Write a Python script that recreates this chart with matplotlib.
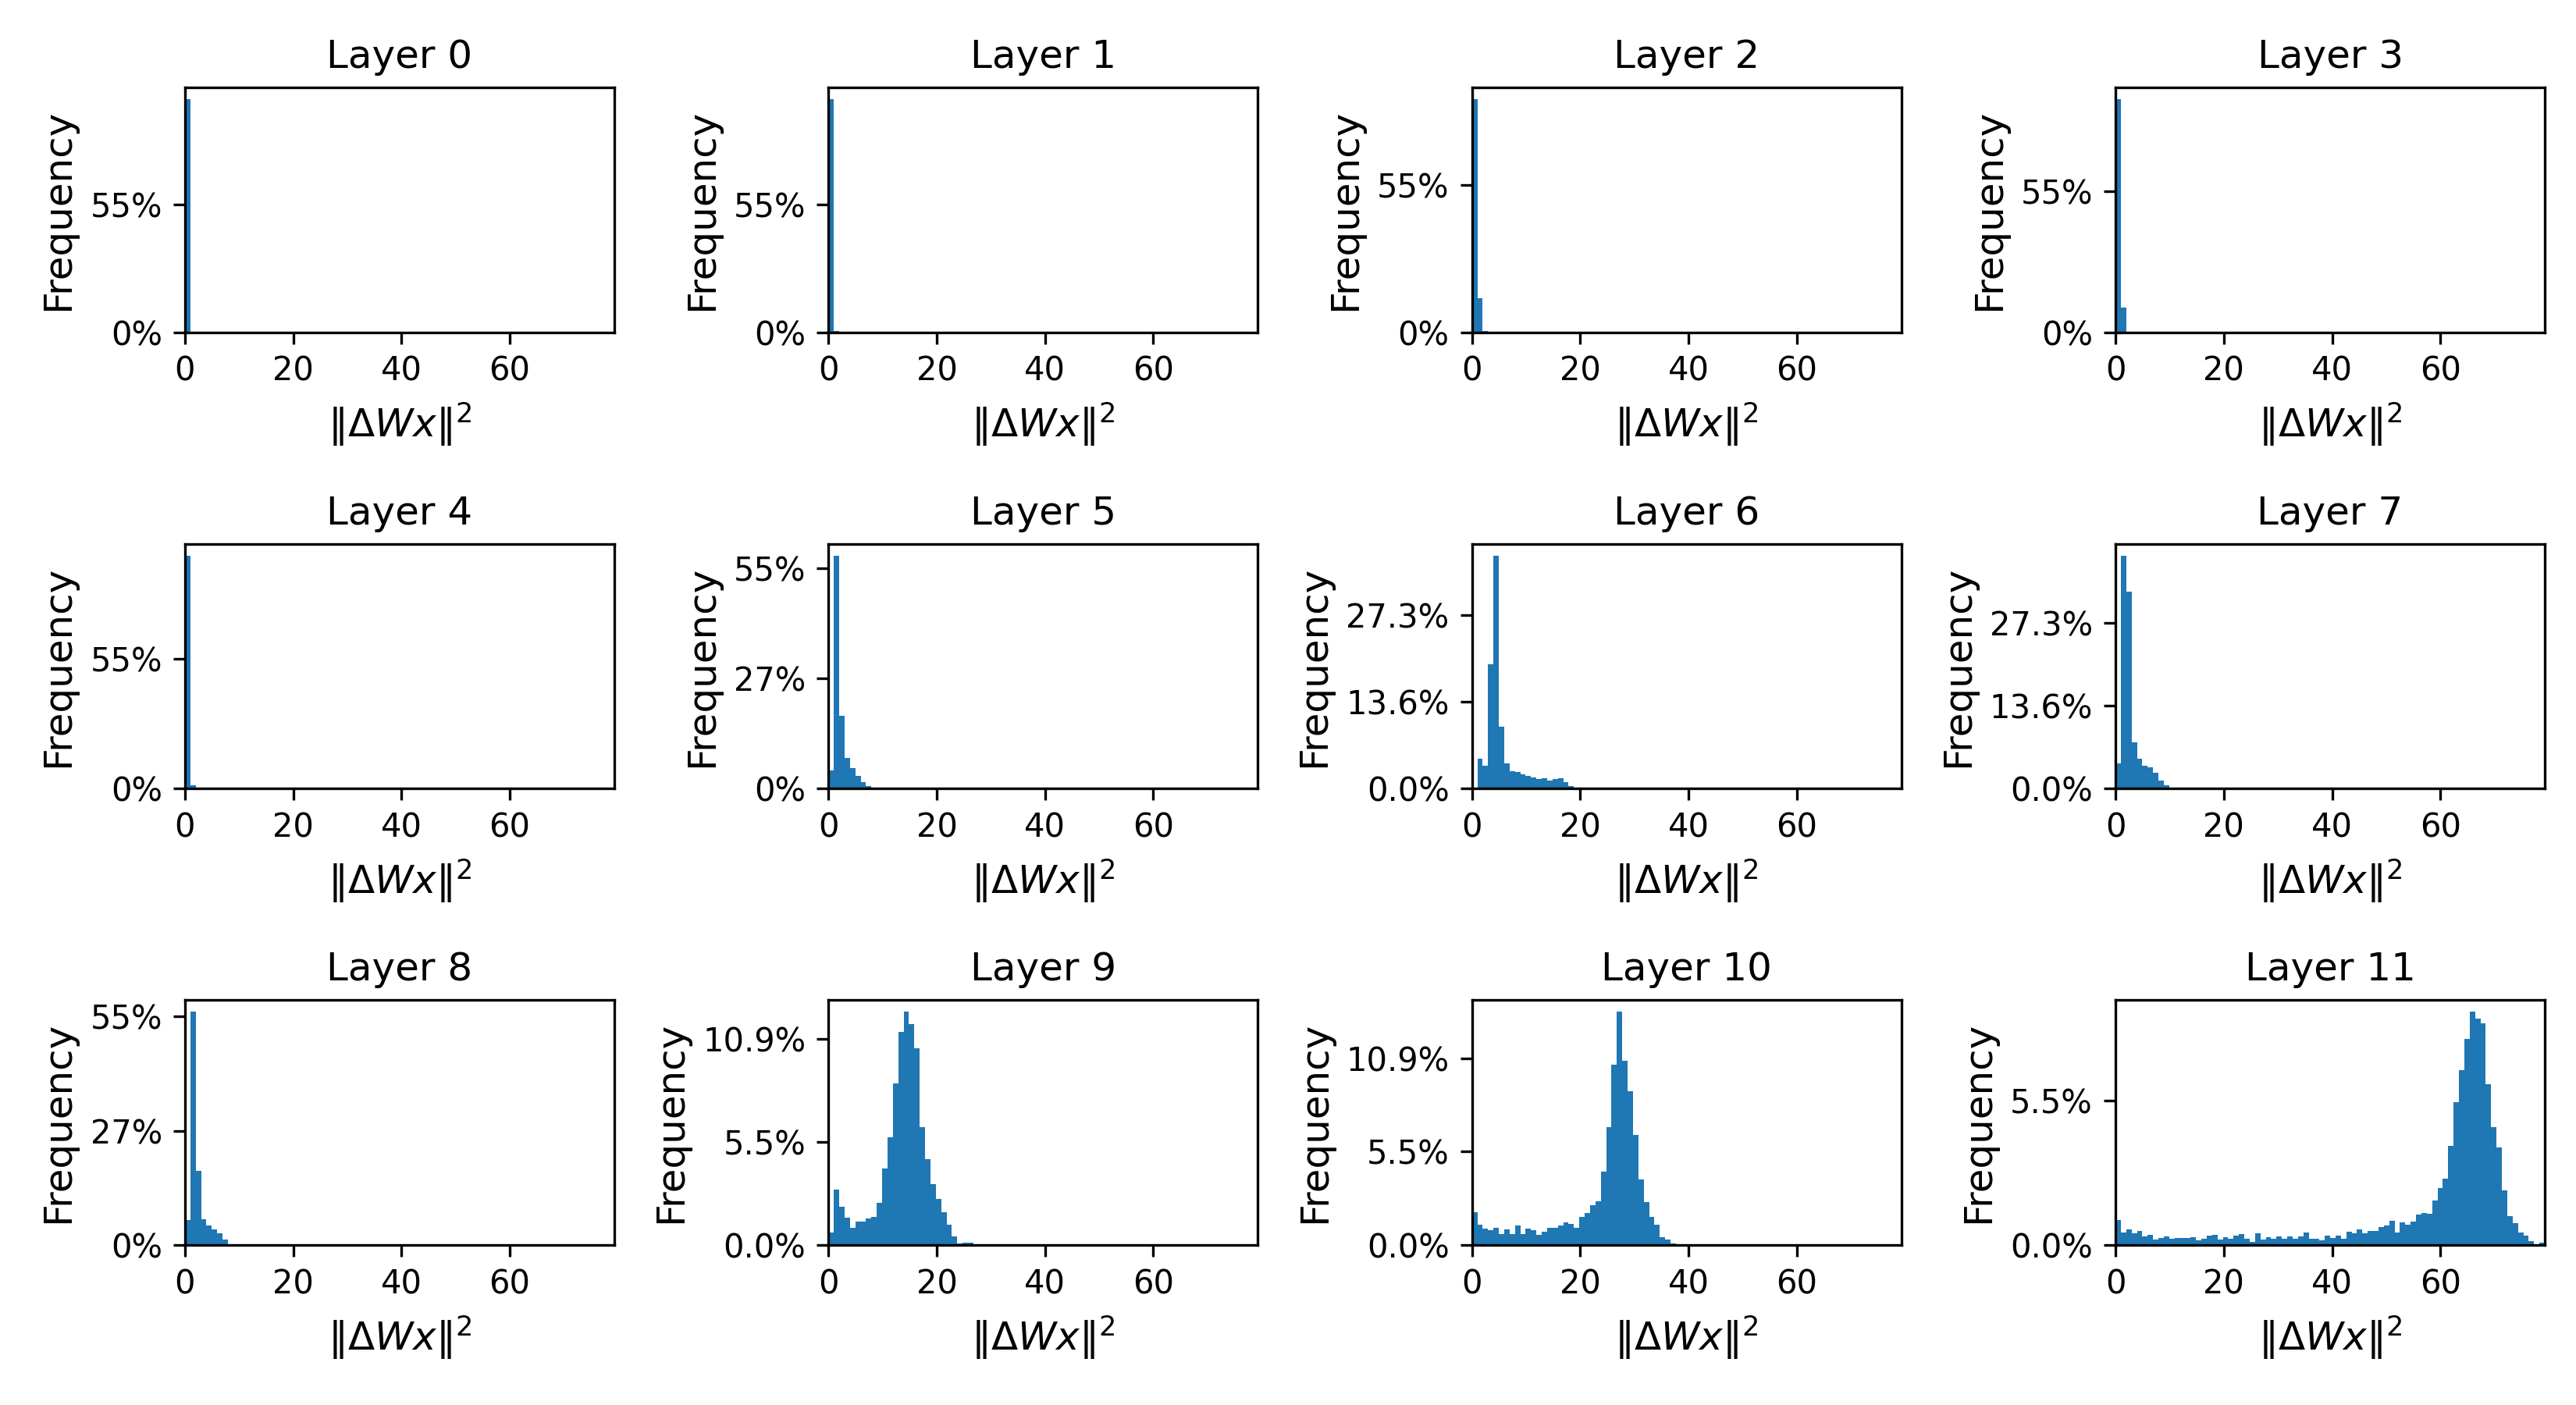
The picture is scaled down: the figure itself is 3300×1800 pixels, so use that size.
import numpy as np
import matplotlib
matplotlib.use("Agg")
import matplotlib.pyplot as plt
from matplotlib.ticker import PercentFormatter

# Shared histogram bins (80 bins over the squared-norm range)
x_max = 79.3
n_bins = 80
total_samples = 18330

layer_names = [f"Layer {i}" for i in range(12)]

# Frequency (%) per bin, starting at bin 0; remaining bins are zero
layer0 = [99.6, 0.3]
layer1 = [99.4, 0.5]
layer2 = [86.6, 12.7, 0.4, 0.1]
layer3 = [90.1, 9.5, 0.2]
layer4 = [98.2, 1.55, 0.1]
layer5 = [4.55, 57.7, 18.0, 7.5, 5.1, 3.2, 1.6, 0.65, 0.26, 0.1]
layer6 = [0.0, 4.65, 3.62, 19.6, 36.7, 9.8, 4.0, 2.8, 2.67, 2.3, 2.06, 1.73,
          1.56, 1.65, 1.28, 1.56, 1.65, 1.03, 0.41]
layer7 = [4.19, 38.3, 32.3, 7.55, 4.96, 3.80, 3.54, 2.63, 1.34, 0.56]
layer8 = [5.9, 55.7, 17.75, 6.09, 4.58, 3.64, 2.70, 1.38]
layer9 = [0.65, 2.93, 2.02, 1.44, 0.90, 1.23, 1.23, 1.40, 1.48, 2.22,
          4.05, 5.69, 8.55, 11.26, 12.33, 11.70, 10.39, 6.23, 4.54, 3.22,
          2.43, 1.73, 1.06, 0.44, 0.08, 0.11, 0.11, 0.05]
layer10 = [1.91, 1.18, 0.95, 0.85, 0.99, 0.63, 0.90, 0.63, 1.13, 0.63,
           0.95, 0.85, 0.58, 0.76, 0.99, 0.99, 1.13, 1.31, 1.22, 0.99,
           1.63, 1.86, 2.32, 2.55, 4.29, 6.90, 10.56, 13.63, 10.75, 9.01,
           6.44, 3.83, 2.50, 1.63, 1.18, 0.44, 0.31, 0.09, 0.02]
layer11 = [0.94, 0.46, 0.58, 0.43, 0.52, 0.31, 0.37, 0.20, 0.26, 0.31,
           0.23, 0.26, 0.26, 0.26, 0.29, 0.17, 0.23, 0.34, 0.37, 0.20,
           0.29, 0.23, 0.34, 0.40, 0.23, 0.11, 0.43, 0.20, 0.29, 0.23,
           0.31, 0.23, 0.31, 0.23, 0.31, 0.46, 0.23, 0.23, 0.17, 0.34,
           0.26, 0.34, 0.23, 0.49, 0.43, 0.58, 0.43, 0.52, 0.52, 0.67,
           0.73, 0.91, 0.46, 0.85, 0.76, 0.88, 1.14, 1.20, 1.17, 1.67,
           2.15, 2.50, 3.74, 5.39, 6.60, 7.76, 8.79, 8.52, 8.35, 6.07,
           4.45, 3.68, 2.06, 1.08, 0.82, 0.46, 0.34, 0.14, 0.02, 0.08]

layers = [layer0, layer1, layer2, layer3, layer4, layer5,
          layer6, layer7, layer8, layer9, layer10, layer11]

x_label = r"$\|\Delta Wx\|^2$"
y_label = "Frequency"

edges = np.linspace(0, x_max, n_bins + 1)
lefts = edges[:-1]

fig, axes = plt.subplots(3, 4, figsize=(11, 6), dpi=300)
fig.subplots_adjust(left=0.0718, right=0.9879, top=0.9378, bottom=0.1139,
                    wspace=0.499, hspace=0.864)
for ax, name, pct in zip(axes.flat, layer_names, layers):
    freq = np.zeros(n_bins)
    freq[:len(pct)] = pct
    counts = freq / 100.0 * total_samples
    ax.hist(lefts, bins=edges, weights=counts, color="#1f77b4")
    ax.set_xlim(edges[0], edges[-1])
    ax.yaxis.set_major_formatter(PercentFormatter(xmax=total_samples))
    ax.set_title(name, fontsize=12)
    ax.set_xlabel(x_label, fontsize=12)
    ax.set_ylabel(y_label, fontsize=12)

fig.savefig("out.png", dpi=300)
